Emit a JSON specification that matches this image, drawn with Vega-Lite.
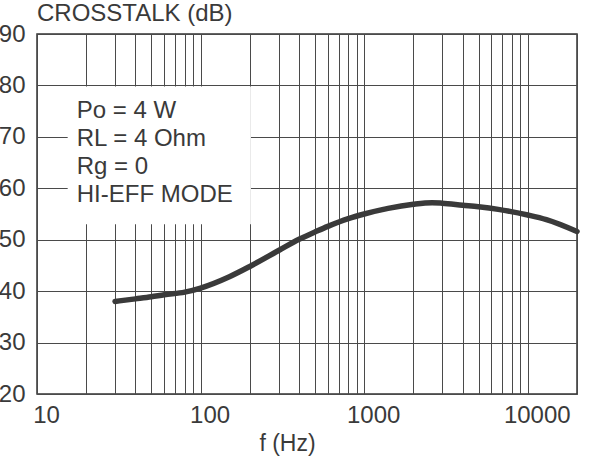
{
  "$schema": "https://vega.github.io/schema/vega-lite/v6.json",
  "width": 540,
  "height": 360,
  "autosize": {"type": "none"},
  "padding": {"left": 37, "top": 34, "right": 12, "bottom": 68},
  "background": "white",
  "title": {
    "text": "CROSSTALK (dB)",
    "anchor": "start",
    "frame": "group",
    "font": "Liberation Sans",
    "fontSize": 24,
    "fontWeight": "normal",
    "color": "#3a3a3a",
    "offset": -4
  },
  "config": {
    "view": {"stroke": "#333333", "strokeWidth": 1.5},
    "axis": {
      "labelFont": "Liberation Sans",
      "labelFontSize": 24,
      "labelColor": "#3a3a3a",
      "titleFont": "Liberation Sans",
      "titleFontSize": 23,
      "titleFontWeight": "normal",
      "titleColor": "#3a3a3a",
      "gridColor": "#4a4a4a",
      "gridOpacity": 1,
      "gridWidth": 1,
      "ticks": false,
      "domain": false
    }
  },
  "datasets": {
    "curve": [
      {"f": 30, "db": 38.0},
      {"f": 40, "db": 38.5},
      {"f": 50, "db": 38.9},
      {"f": 60, "db": 39.3},
      {"f": 80, "db": 39.8},
      {"f": 100, "db": 40.6},
      {"f": 150, "db": 42.8},
      {"f": 200, "db": 44.8},
      {"f": 300, "db": 47.9},
      {"f": 400, "db": 50.1},
      {"f": 500, "db": 51.5},
      {"f": 600, "db": 52.6},
      {"f": 800, "db": 54.1},
      {"f": 1000, "db": 55.0},
      {"f": 1400, "db": 56.1},
      {"f": 2000, "db": 56.9},
      {"f": 2600, "db": 57.2},
      {"f": 3000, "db": 57.1},
      {"f": 4000, "db": 56.7},
      {"f": 5000, "db": 56.4},
      {"f": 6600, "db": 55.9},
      {"f": 10000, "db": 54.8},
      {"f": 13000, "db": 53.9},
      {"f": 20000, "db": 51.6}
    ],
    "box": [{"f1": 15.4, "f2": 203, "db1": 53, "db2": 79.8}],
    "notes": [
      {"label": "Po = 4 W", "f": 17.5, "db": 73.65},
      {"label": "RL = 4 Ohm", "f": 17.5, "db": 68.2},
      {"label": "Rg = 0", "f": 17.5, "db": 62.8},
      {"label": "HI-EFF MODE", "f": 17.5, "db": 57.4}
    ]
  },
  "layer": [
    {
      "data": {"name": "box"},
      "mark": {"type": "rect", "fill": "white", "stroke": null},
      "encoding": {
        "x": {
          "field": "f1", "type": "quantitative",
          "scale": {"type": "log", "domain": [10, 20000], "nice": false},
          "axis": {
            "title": "f (Hz)",
            "titleX": 250,
            "titleAnchor": "middle",
            "titleAlign": "center",
            "titlePadding": 5,
            "values": [10, 20, 30, 40, 50, 60, 70, 80, 90, 100, 200, 300, 400, 500, 600, 700, 800, 900, 1000, 2000, 3000, 4000, 5000, 6000, 7000, 8000, 9000, 10000, 20000],
            "labelExpr": "datum.value == 10 || datum.value == 100 || datum.value == 1000 || datum.value == 10000 ? datum.label : ''",
            "format": "d",
            "labelOffset": 9,
            "labelPadding": 9,
            "labelFlush": false,
            "labelOverlap": false,
            "grid": true
          }
        },
        "x2": {"field": "f2"},
        "y": {
          "field": "db1", "type": "quantitative",
          "scale": {"domain": [20, 90], "nice": false},
          "axis": {
            "title": null,
            "values": [20, 30, 40, 50, 60, 70, 80, 90],
            "labelPadding": 12,
            "grid": true
          }
        },
        "y2": {"field": "db2"}
      }
    },
    {
      "data": {"name": "curve"},
      "mark": {"type": "line", "color": "#3a3a3a", "strokeWidth": 5.5, "interpolate": "monotone", "strokeCap": "round"},
      "encoding": {
        "x": {"field": "f", "type": "quantitative"},
        "y": {"field": "db", "type": "quantitative"}
      }
    },
    {
      "data": {"name": "notes"},
      "mark": {"type": "text", "align": "left", "baseline": "alphabetic", "font": "Liberation Sans", "fontSize": 24, "color": "#3a3a3a"},
      "encoding": {
        "x": {"field": "f", "type": "quantitative"},
        "y": {"field": "db", "type": "quantitative"},
        "text": {"field": "label"}
      }
    }
  ]
}
